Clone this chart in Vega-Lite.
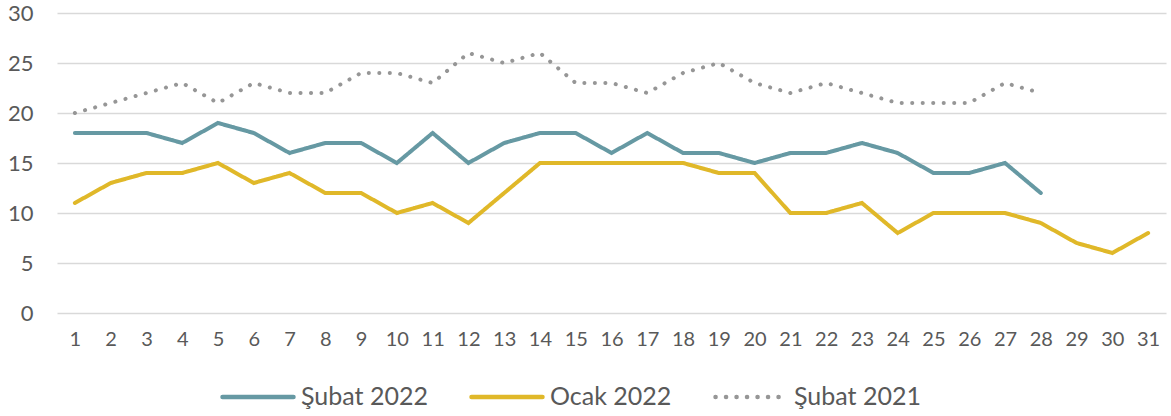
{
  "$schema": "https://vega.github.io/schema/vega-lite/v6.json",
  "autosize": "none",
  "width": 1109,
  "height": 300,
  "padding": {"left": 57, "top": 13, "right": 5, "bottom": 103},
  "background": "white",
  "config": {
    "font": "Lato",
    "view": {"stroke": null},
    "axis": {"labelColor": "#595959", "labelFont": "Lato", "grid": true, "gridColor": "#D9D9D9", "gridWidth": 1.3, "domain": false, "ticks": false, "title": null}
  },
  "data": {
    "values": [
      {"day": 1, "series": "Şubat 2022", "v": 18}, {"day": 2, "series": "Şubat 2022", "v": 18}, {"day": 3, "series": "Şubat 2022", "v": 18}, {"day": 4, "series": "Şubat 2022", "v": 17}, {"day": 5, "series": "Şubat 2022", "v": 19}, {"day": 6, "series": "Şubat 2022", "v": 18}, {"day": 7, "series": "Şubat 2022", "v": 16}, {"day": 8, "series": "Şubat 2022", "v": 17}, {"day": 9, "series": "Şubat 2022", "v": 17}, {"day": 10, "series": "Şubat 2022", "v": 15}, {"day": 11, "series": "Şubat 2022", "v": 18}, {"day": 12, "series": "Şubat 2022", "v": 15}, {"day": 13, "series": "Şubat 2022", "v": 17}, {"day": 14, "series": "Şubat 2022", "v": 18}, {"day": 15, "series": "Şubat 2022", "v": 18}, {"day": 16, "series": "Şubat 2022", "v": 16}, {"day": 17, "series": "Şubat 2022", "v": 18}, {"day": 18, "series": "Şubat 2022", "v": 16}, {"day": 19, "series": "Şubat 2022", "v": 16}, {"day": 20, "series": "Şubat 2022", "v": 15}, {"day": 21, "series": "Şubat 2022", "v": 16}, {"day": 22, "series": "Şubat 2022", "v": 16}, {"day": 23, "series": "Şubat 2022", "v": 17}, {"day": 24, "series": "Şubat 2022", "v": 16}, {"day": 25, "series": "Şubat 2022", "v": 14}, {"day": 26, "series": "Şubat 2022", "v": 14}, {"day": 27, "series": "Şubat 2022", "v": 15}, {"day": 28, "series": "Şubat 2022", "v": 12},
      {"day": 1, "series": "Ocak 2022", "v": 11}, {"day": 2, "series": "Ocak 2022", "v": 13}, {"day": 3, "series": "Ocak 2022", "v": 14}, {"day": 4, "series": "Ocak 2022", "v": 14}, {"day": 5, "series": "Ocak 2022", "v": 15}, {"day": 6, "series": "Ocak 2022", "v": 13}, {"day": 7, "series": "Ocak 2022", "v": 14}, {"day": 8, "series": "Ocak 2022", "v": 12}, {"day": 9, "series": "Ocak 2022", "v": 12}, {"day": 10, "series": "Ocak 2022", "v": 10}, {"day": 11, "series": "Ocak 2022", "v": 11}, {"day": 12, "series": "Ocak 2022", "v": 9}, {"day": 13, "series": "Ocak 2022", "v": 12}, {"day": 14, "series": "Ocak 2022", "v": 15}, {"day": 15, "series": "Ocak 2022", "v": 15}, {"day": 16, "series": "Ocak 2022", "v": 15}, {"day": 17, "series": "Ocak 2022", "v": 15}, {"day": 18, "series": "Ocak 2022", "v": 15}, {"day": 19, "series": "Ocak 2022", "v": 14}, {"day": 20, "series": "Ocak 2022", "v": 14}, {"day": 21, "series": "Ocak 2022", "v": 10}, {"day": 22, "series": "Ocak 2022", "v": 10}, {"day": 23, "series": "Ocak 2022", "v": 11}, {"day": 24, "series": "Ocak 2022", "v": 8}, {"day": 25, "series": "Ocak 2022", "v": 10}, {"day": 26, "series": "Ocak 2022", "v": 10}, {"day": 27, "series": "Ocak 2022", "v": 10}, {"day": 28, "series": "Ocak 2022", "v": 9}, {"day": 29, "series": "Ocak 2022", "v": 7}, {"day": 30, "series": "Ocak 2022", "v": 6}, {"day": 31, "series": "Ocak 2022", "v": 8},
      {"day": 1, "series": "Şubat 2021", "v": 20}, {"day": 2, "series": "Şubat 2021", "v": 21}, {"day": 3, "series": "Şubat 2021", "v": 22}, {"day": 4, "series": "Şubat 2021", "v": 23}, {"day": 5, "series": "Şubat 2021", "v": 21}, {"day": 6, "series": "Şubat 2021", "v": 23}, {"day": 7, "series": "Şubat 2021", "v": 22}, {"day": 8, "series": "Şubat 2021", "v": 22}, {"day": 9, "series": "Şubat 2021", "v": 24}, {"day": 10, "series": "Şubat 2021", "v": 24}, {"day": 11, "series": "Şubat 2021", "v": 23}, {"day": 12, "series": "Şubat 2021", "v": 26}, {"day": 13, "series": "Şubat 2021", "v": 25}, {"day": 14, "series": "Şubat 2021", "v": 26}, {"day": 15, "series": "Şubat 2021", "v": 23}, {"day": 16, "series": "Şubat 2021", "v": 23}, {"day": 17, "series": "Şubat 2021", "v": 22}, {"day": 18, "series": "Şubat 2021", "v": 24}, {"day": 19, "series": "Şubat 2021", "v": 25}, {"day": 20, "series": "Şubat 2021", "v": 23}, {"day": 21, "series": "Şubat 2021", "v": 22}, {"day": 22, "series": "Şubat 2021", "v": 23}, {"day": 23, "series": "Şubat 2021", "v": 22}, {"day": 24, "series": "Şubat 2021", "v": 21}, {"day": 25, "series": "Şubat 2021", "v": 21}, {"day": 26, "series": "Şubat 2021", "v": 21}, {"day": 27, "series": "Şubat 2021", "v": 23}, {"day": 28, "series": "Şubat 2021", "v": 22}
    ]
  },
  "mark": {"type": "line", "strokeWidth": 4, "strokeCap": "round", "strokeJoin": "miter", "interpolate": "linear"},
  "encoding": {
    "x": {"field": "day", "type": "ordinal", "sort": "ascending", "scale": {"type": "point", "padding": 0.5},
      "axis": {"labelAngle": 0, "labelFontSize": 20, "labelPadding": 16, "grid": false}},
    "y": {"field": "v", "type": "quantitative", "scale": {"domain": [0, 30]},
      "axis": {"values": [0, 5, 10, 15, 20, 25, 30], "labelFontSize": 22, "labelPadding": 24}},
    "color": {"field": "series", "type": "nominal", "sort": ["Şubat 2022", "Ocak 2022", "Şubat 2021"],
      "scale": {"domain": ["Şubat 2022", "Ocak 2022", "Şubat 2021"], "range": ["#6699A3", "#E0B829", "#969696"]},
      "legend": {"title": null, "orient": "none", "direction": "horizontal", "legendX": 163, "legendY": 346,
        "symbolType": "stroke", "symbolSize": 5041, "symbolStrokeWidth": 4.5, "labelFontSize": 25, "labelColor": "#595959", "labelOffset": 5, "columnPadding": 34,
        "encode": {"symbols": {"update": {"strokeCap": {"value": "round"}}}}}},
    "strokeDash": {"field": "series", "type": "nominal", "sort": ["Şubat 2022", "Ocak 2022", "Şubat 2021"],
      "scale": {"domain": ["Şubat 2022", "Ocak 2022", "Şubat 2021"], "range": [[1, 0], [1, 0], [0.1, 10.4]]},
      "legend": {"title": null, "orient": "none", "direction": "horizontal", "legendX": 163, "legendY": 346,
        "symbolType": "stroke", "symbolSize": 5041, "symbolStrokeWidth": 4.5, "labelFontSize": 25, "labelColor": "#595959", "labelOffset": 5, "columnPadding": 34,
        "encode": {"symbols": {"update": {"strokeCap": {"value": "round"}}}}}}
  }
}
